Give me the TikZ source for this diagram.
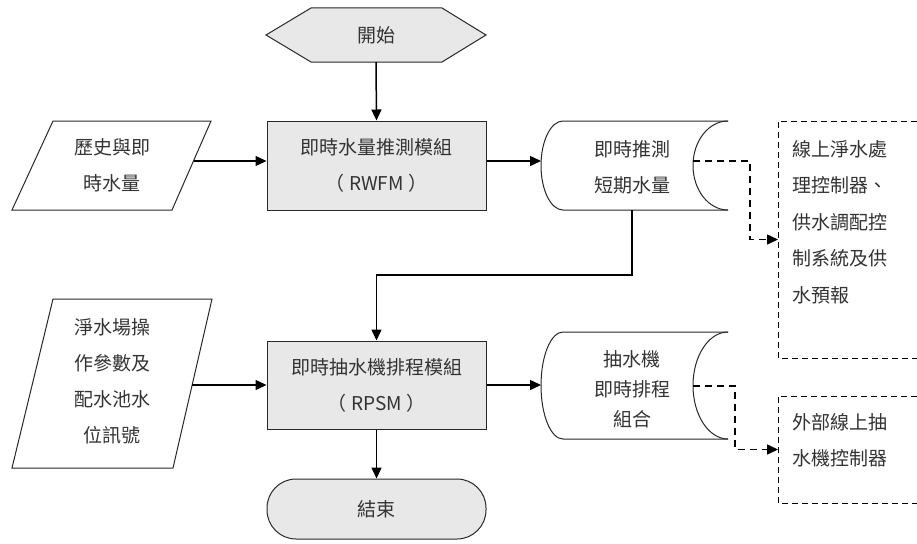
\documentclass[tikz,border=0pt]{standalone}
\usepackage{fontspec}
\setmainfont{Noto Sans CJK TC}
\usetikzlibrary{arrows.meta}
\definecolor{boxfill}{RGB}{232,232,232}
\definecolor{txtc}{RGB}{51,51,51}
\definecolor{edgec}{RGB}{40,40,40}
\begin{document}
\begin{tikzpicture}[x=1pt,y=-1pt,
  txt/.style={text=txtc,font=\fontsize{19}{36}\selectfont,align=center,inner sep=0pt},
  proc/.style={draw=edgec,fill=boxfill,line width=1pt,minimum width=219pt,inner sep=0pt},
  shp/.style={draw=edgec,line width=1pt},
  ghost/.style={inner sep=0pt,outer sep=0pt},
  arr/.style={-{Triangle[length=11pt,width=10pt]},line width=1.5pt,draw=black},
  darr/.style={arr,dash pattern=on 7pt off 5pt},
  dbox/.style={draw=black,line width=1pt,dash pattern=on 6pt off 4pt}]
\useasboundingbox (0,0) rectangle (917,543);
\fill[white] (0,0) rectangle (917,543);

% start hexagon
\draw[shp,fill=boxfill] (266,35)--(311,8)--(442,8)--(486,35)--(442,62)--(311,62)--cycle;
\node[txt,ghost,minimum width=220pt,minimum height=54pt] (start) at (376,35) {開始};

% RWFM
\node[proc,minimum height=89pt,txt] (rwfm) at (376.5,165.5) {即時水量推測模組\\（ RWFM ）};

% input 1
\draw[shp] (12,210)--(53,121)--(211,121)--(172,210)--cycle;
\node[txt] (in1) at (112,165.5) {歷史與即\\時水量};
\coordinate (in1r) at (193.5,161);

% cylinder 1
\draw[shp,fill=white] (728,121) -- (563,121)
  .. controls (550.85,121) and (541,140.92) .. (541,165.5)
  .. controls (541,190.08) and (550.85,210) .. (563,210) -- (728,210);
\draw[shp] (728,121) .. controls (708.67,121) and (693,140.92) .. (693,165.5)
  .. controls (693,190.08) and (708.67,210) .. (728,210);
\node[ghost,minimum width=187pt,minimum height=89pt] (c1) at (634.5,165.5) {};
\node[txt] (c1t) at (632,167) {即時推測\\短期水量};
\coordinate (c1in) at (693,161);

% output box 1
\node[ghost,minimum width=139pt,minimum height=237pt] (b1) at (847.5,239.5) {};
\draw[dbox] (b1.north east) -- (b1.north west) -- (b1.south west) -- (b1.south east);
\node[txt,align=left,anchor=west,font=\fontsize{19}{36.5}\selectfont] (b1t) at (792,222) {線上淨水處\\理控制器、\\供水調配控\\制系統及供\\水預報};

% RPSM
\node[proc,minimum height=88pt,txt] (rpsm) at (376.5,385) {即時抽水機排程模組\\（ RPSM ）};

% input 2
\draw[shp] (12,468)--(53,299)--(212,299)--(173,468)--cycle;
\node[txt] (in2) at (112,381) {淨水場操\\作參數及\\配水池水\\位訊號};
\coordinate (in2r) at (192.2,385);

% cylinder 2
\draw[shp,fill=white] (728,332) -- (563,332)
  .. controls (550.85,332) and (541,355.95) .. (541,385.5)
  .. controls (541,415.05) and (550.85,439) .. (563,439) -- (728,439);
\draw[shp] (728,332) .. controls (708.67,332) and (693,355.95) .. (693,385.5)
  .. controls (693,415.05) and (708.67,439) .. (728,439);
\node[ghost,minimum width=187pt,minimum height=107pt] (c2) at (634.5,385.5) {};
\node[txt,font=\fontsize{19}{30}\selectfont] (c2t) at (632,389) {抽水機\\即時排程\\組合};
\coordinate (c2in) at (693,386);

% output box 2
\node[ghost,minimum width=139pt,minimum height=107pt] (b2) at (847.5,449.5) {};
\draw[dbox] (b2.north east) -- (b2.north west) -- (b2.south west) -- (b2.south east);
\node[txt,align=left,anchor=west] (b2t) at (792,440) {外部線上抽\\水機控制器};

% end
\node[draw=edgec,fill=boxfill,line width=1pt,rounded corners=29pt,minimum width=219pt,minimum height=60pt,txt] (end) at (376.5,509) {結束};

% connectors
\draw[arr] (start.south) -- (rwfm.north);
\draw[arr] (in1r) -- (in1r -| rwfm.west);
\draw[arr] ([yshift=4.5pt]rwfm.east) -- ([yshift=4.5pt]c1.west);
\draw[darr] (c1in) -- ++(57,0) |- (b1.west);
\draw[arr] ([xshift=-2.5pt]c1.south) -- ++(0,65) -| (rpsm.north);
\draw[arr] (in2r) -- (in2r -| rpsm.west);
\draw[arr] (rpsm.east) -- (rpsm.east -| c2.west);
\draw[darr] (c2in) -- ++(42,0) |- (b2.west);
\draw[arr] (rpsm.south) -- (end.north);
\end{tikzpicture}
\end{document}
